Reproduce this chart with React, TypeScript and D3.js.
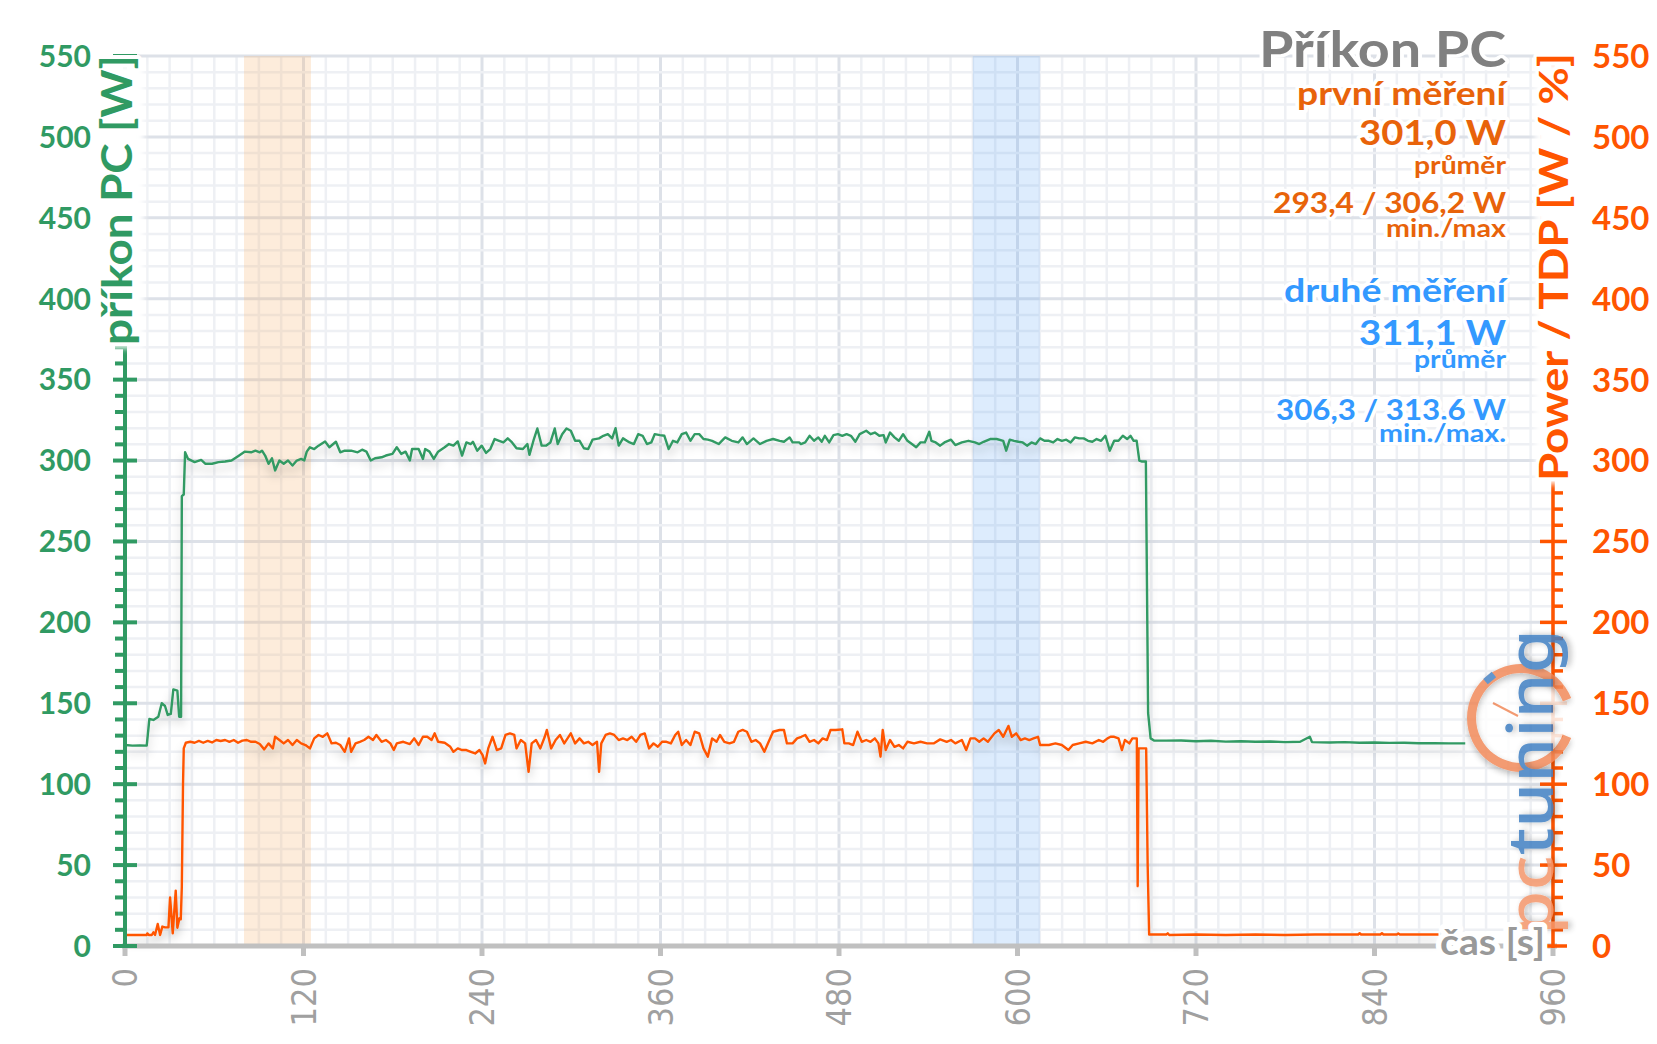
import React from 'react'
import * as d3 from 'd3'

const W = 1657
const H = 1044

// time axis [s] and power axis [W]
const xTicks = [0, 120, 240, 360, 480, 600, 720, 840, 960]
const yTicks = [0, 50, 100, 150, 200, 250, 300, 350, 400, 450, 500, 550]

// measurement windows [s]
const firstWindow = [80, 125]
const secondWindow = [570, 615]

// příkon PC [W] (left axis), [t, W]
const pcPower: [number, number][] = [
  [0, 124.2], [5, 123.8], [10, 124], [14.6, 123.8], [16.4, 140.3], [19.1, 139.7], [22.4, 141.7], [24.7, 150],
  [26.9, 148.3], [28.7, 142.8], [30.8, 143.4], [32.5, 158.6], [35.2, 157.8], [36.4, 141.7], [37.7, 141.7],
  [38.2, 278], [39.5, 279], [40.4, 305.1], [42.4, 301], [46.8, 299], [51.2, 300.4], [54.1, 298], [58.5, 298],
  [62.9, 299], [67.3, 299.4], [71.6, 300], [76, 302.7], [80.4, 305.5], [84.8, 305.1], [87.7, 306.1], [90.6, 305.1],
  [92.1, 306.1], [94.2, 303.1], [96.5, 298], [98.8, 301.4], [100.9, 293.9], [103.8, 300], [106.7, 298], [109.6, 300],
  [112.6, 296.9], [115.5, 300], [118.4, 301], [120.5, 300], [122.2, 305.5], [124.3, 308.2], [127.2, 307.1],
  [130.1, 309.2], [134.5, 311.8], [137.4, 308.2], [141.8, 311.6], [144.7, 305.1], [147.7, 306.1], [152, 306.1],
  [156.4, 305.1], [159.4, 306.7], [162.3, 305.5], [165.2, 300], [168.1, 301.4], [172.5, 302], [175.4, 303.1],
  [179.8, 304.1], [182.7, 308.2], [185.7, 304.1], [188.6, 305.5], [191.5, 300], [193, 307.1], [197.4, 307.1],
  [200.3, 301], [201.8, 307.1], [204.7, 305.5], [207.6, 301], [210.5, 305.5], [214.9, 308.2], [217.8, 310.2],
  [220.8, 309.2], [223.7, 311.8], [226.6, 303.1], [229.5, 311.2], [232.5, 310.2], [233.9, 311.6], [236.8, 306.1],
  [239.8, 309.2], [242.7, 304.7], [245.6, 307.1], [248.5, 313.3], [251.5, 312.2], [254.4, 311.2], [257.3, 313.7],
  [260.2, 311.2], [263.2, 307.6], [267.5, 307.1], [270.5, 310.2], [271.9, 303.5], [274.9, 313.3], [277.2, 319.8],
  [280.1, 309.2], [283, 309.2], [286, 311.2], [288.9, 319.8], [290.9, 310.2], [293.9, 316.3], [296.8, 319.8],
  [299.7, 318.4], [302.6, 312.2], [305.6, 312.2], [308.5, 307.6], [311.4, 307.1], [314.3, 312.9], [318.7, 313.7],
  [321.6, 315.3], [324.6, 316.3], [327.5, 313.7], [329.8, 320], [331.9, 309.2], [334.8, 313.7], [339.2, 311.2],
  [342.1, 310.2], [345, 316.3], [348, 315.3], [350.9, 310.2], [353.8, 311.2], [356.1, 316.3], [359.6, 315.7],
  [362.6, 315.3], [365.5, 307.1], [368.4, 312.2], [371.3, 311.2], [374.3, 316.3], [377.2, 317.3], [380.1, 312.2],
  [383, 316.3], [386, 316.3], [388.9, 313.3], [391.8, 312.9], [394.7, 312.2], [399.1, 310.2], [403.5, 314.3],
  [407.9, 312.2], [412.3, 311.2], [415.2, 314.3], [418.1, 310.2], [422.5, 313.7], [426.9, 310.2], [431.3, 312.2],
  [435.7, 313.3], [440.1, 312.2], [443, 311.6], [446.8, 314.3], [448.8, 311.2], [453.2, 311.2], [454.4, 310.2],
  [457.3, 311.2], [460.2, 315.3], [463.2, 312.2], [466.1, 314.3], [468.4, 311.6], [470.5, 315.3], [473.4, 311.2],
  [476.3, 315.7], [479.3, 316.3], [482.2, 315.3], [485.1, 316.3], [488, 315.3], [491, 311.6], [493.9, 316.3],
  [498.3, 318.4], [501.2, 316.3], [504.1, 317.3], [507.1, 315.3], [510, 315.7], [511.4, 311.2], [514.3, 317.3],
  [517.3, 314.3], [520.2, 312.2], [523.1, 316.3], [526, 312.2], [529, 310.2], [531.9, 308.2], [534.8, 311.2],
  [537.7, 311.2], [540.7, 317.8], [542.1, 312.2], [545, 311.2], [548, 309.2], [550.9, 311.2], [555.3, 312.9],
  [558.2, 309.6], [562.6, 311.2], [567, 312.2], [571.4, 311.2], [574.3, 310.2], [577.2, 311.6], [581.6, 313.3],
  [586, 313.3], [590.4, 312.2], [592.4, 306.1], [594.8, 312.9], [597.7, 312.2], [600.6, 311.6], [603.5, 311.2],
  [606.4, 309.2], [609.4, 311.2], [612.3, 310.2], [615.2, 313.7], [618.1, 312.2], [621.1, 312.2], [624, 311.2],
  [626.9, 313.3], [629.8, 312.2], [632.8, 312.9], [635.7, 311.2], [638.6, 314.3], [641.5, 313.7], [644.5, 313.7],
  [647.4, 312.2], [650.3, 311.6], [653.2, 313.3], [656.2, 312.2], [659.1, 315.3], [662, 306.1], [665, 312.2],
  [667.9, 312.2], [670.8, 315.3], [673.7, 313.3], [676, 315.3], [678.1, 312.2], [680.1, 312.2], [681.9, 300],
  [683.4, 299.4], [686.3, 299.4], [687.8, 144], [689.5, 128.3], [692, 126.9], [700, 126.9], [710, 127],
  [720, 126.5], [730, 126.8], [740, 126.3], [750, 126.5], [760, 126.2], [770, 126.4], [780, 126], [790, 126.2],
  [796.5, 129.3], [798, 126], [810, 125.8], [820, 126], [830, 125.6], [840, 125.8], [850, 125.5], [860, 125.6],
  [870, 125.3], [880, 125.4], [890, 125.2], [901, 125.2],
]

// Power / TDP [W] (right axis), [t, W]
const powerTdp: [number, number][] = [
  [0, 6.8], [14.6, 6.8], [15, 7.8], [16, 6.8], [18, 6.8], [19.1, 8.5], [20.2, 6.8], [22, 13.6], [23.6, 6.8],
  [25.1, 12], [26.9, 11.5], [29.2, 11.5], [30.3, 30], [32.1, 7.8], [34.1, 34.2], [35.2, 11.3], [36.6, 17.1],
  [37.5, 16.5], [38.2, 36.7], [39, 100], [39.5, 122.1], [40.9, 125.6], [43.9, 126.2], [46.8, 125.6], [49.7, 126.7],
  [52.6, 125.6], [55.6, 126.7], [58.5, 125.8], [61.4, 127.3], [64.3, 126.7], [67.3, 127.3], [70.2, 126.2],
  [73.1, 127.3], [76, 125.6], [78.9, 126.9], [81.9, 127.3], [84.8, 126.2], [87.7, 126.2], [90.6, 124.8],
  [93.6, 121.5], [96.5, 125.2], [99.4, 122.1], [100.9, 129.3], [103.8, 127.3], [106.7, 125.2], [109.6, 127.3],
  [112.6, 124.2], [115.5, 127.3], [118.4, 125.2], [121.3, 124.2], [124.3, 122.1], [127.2, 128.3], [130.1, 130.4],
  [133, 129.3], [136, 131.4], [138.9, 125.2], [141.8, 125.6], [144.7, 124.2], [147.7, 120], [150.6, 128.3],
  [152, 120], [155, 125.2], [157.9, 126.2], [160.8, 127.3], [163.7, 129.3], [166.7, 127.3], [169, 130.4],
  [172.5, 126.2], [175.4, 127.3], [178.4, 125.2], [180.7, 121.1], [182.7, 125.2], [187.1, 126.2], [191.5, 124.8],
  [194.4, 128.3], [197.4, 124.2], [200.3, 129.3], [203.2, 129.3], [206.1, 127.3], [208.2, 131.4], [210.5, 126.2],
  [214.9, 125.6], [218.7, 123.1], [220.8, 120], [223.7, 122.1], [226.6, 121.1], [229.5, 121.1], [232.5, 120],
  [235.4, 119], [238.3, 121.1], [240.4, 118], [242.1, 112.8], [244.2, 122.1], [247.1, 129.3], [250, 121.1],
  [252.9, 122.1], [255.8, 130.4], [258.8, 131.4], [261.7, 130.4], [263.2, 122.1], [266.1, 127.3], [269, 125.2],
  [271.3, 107.6], [273.4, 125.2], [276.3, 127.3], [279.2, 122.1], [282.2, 129.3], [283.6, 133.5], [286.5, 122.1],
  [289.5, 127.3], [292.4, 130.4], [295.3, 125.2], [299.7, 131.4], [302.6, 125.2], [305.6, 128.3], [308.5, 125.2],
  [311.4, 126.2], [314.3, 124.2], [317.3, 126.2], [318.7, 107.6], [320.2, 125.2], [323.1, 130.4], [326, 131.4],
  [328.9, 130.4], [331.9, 127.3], [334.8, 128.3], [337.7, 127.3], [340.6, 129.3], [343.6, 126.2], [346.5, 130.4],
  [349.4, 131.4], [352.3, 122.1], [355.3, 125.2], [358.2, 123.1], [361.1, 126.2], [364, 126.2], [367, 125.2],
  [369.9, 130.4], [371.9, 132.4], [374.3, 124.2], [377.2, 127.3], [380.1, 124.2], [383, 132.4], [386, 131.4],
  [388.9, 122.1], [391.8, 117], [394.7, 128.3], [397.7, 126.2], [400, 130.4], [402.9, 126.2], [406.4, 125.2],
  [409.4, 126.2], [412.3, 132.4], [415.2, 133.5], [418.1, 132.4], [421.1, 126.2], [424, 127.3], [426.9, 125.2],
  [429.8, 120], [432.7, 126.2], [435.7, 132.4], [440.1, 133.5], [443, 133.5], [445, 125.2], [448.8, 125.2],
  [451.8, 128.3], [454.7, 129.3], [457.3, 130.4], [460.2, 126.2], [463.2, 127.3], [466.1, 125.2], [469, 128.3],
  [471.9, 127.3], [474.3, 133.5], [477.8, 133.5], [482.2, 133.9], [483.6, 125.2], [486.6, 125.2], [489.5, 124.2],
  [492.4, 132.4], [495.3, 126.2], [498.3, 127.3], [501.2, 126.2], [504.1, 128.3], [506.5, 125.2], [507.9, 117],
  [509.4, 133.5], [511.4, 121.1], [514.3, 127.3], [517.3, 123.1], [520.2, 124.2], [523.1, 122.1], [526, 126.2],
  [530.4, 125.2], [534.8, 126.2], [539.2, 125.2], [543.6, 125.2], [548, 127.7], [552.4, 126.2], [555.3, 127.3],
  [558.2, 125.2], [562.6, 127.3], [565.5, 121.1], [568.4, 128.3], [571.4, 128.3], [574.3, 126.2], [577.2, 128.3],
  [580.1, 126.2], [584.5, 131.4], [587.4, 133.5], [590.4, 129.3], [593.9, 136], [596.2, 129.3], [599.1, 131.4],
  [602.1, 127.3], [605, 128.3], [607.9, 127.3], [610.8, 128.3], [613.8, 129.3], [615.2, 124.2], [618.1, 124.2],
  [621.1, 124.2], [625.5, 125.2], [629.8, 124.2], [634.2, 121.1], [637.1, 124.2], [641.5, 125.2], [645.9, 126.2],
  [650.3, 125.2], [654.7, 127.3], [657.6, 126.2], [660.5, 128.3], [662.6, 129.3], [665, 129.3], [667.9, 128.3],
  [670.2, 121.1], [672.2, 127.3], [675.2, 125.2], [677.2, 128.3], [680.2, 128.3], [680.8, 37], [681.4, 122.1],
  [684, 122.1], [686.5, 122.1], [687.5, 50], [688.5, 7.1], [700, 7.1], [701, 7.8], [702, 6.8], [720, 7.1],
  [740, 6.8], [760, 7.1], [780, 6.8], [800, 7.1], [829, 7.1], [830, 7.9], [831, 7.1], [844, 7.1], [845, 7.9],
  [846, 7.1], [855, 7.1], [856, 7.7], [857, 7.1], [883, 7.1],
]

const GREEN = '#309a63'
const ORANGE = '#ff5500'
const TXT_ORANGE = '#e8630a'
const BLUE = '#3399ff'
const GREY = '#808080'

const x = d3.scaleLinear().domain([0, 960]).range([125, 1553])
const y = d3.scaleLinear().domain([0, 550]).range([946, 56])

const line = d3.line<[number, number]>().x(d => x(d[0])).y(d => y(d[1]))

const halo = { paintOrder: 'stroke', stroke: '#fff', strokeWidth: 7, strokeLinejoin: 'round' } as React.CSSProperties
const FONT = 'Lato, "Open Sans", sans-serif'

export default function App() {
  const minorX = d3.range(0, 961, 15)
  const minorY = d3.range(0, 551, 10)
  const ringArc = d3.arc()({ innerRadius: 45, outerRadius: 54, startAngle: Math.PI * 0.62, endAngle: Math.PI * 2.38 } as any)

  const stat = (txt: string, base: number, size: number, len: number, color: string) => (
    <text x={1506} y={base} textAnchor="end" fontSize={size} fontWeight={700} fill={color}
      textLength={len} lengthAdjust="spacingAndGlyphs" style={halo}>{txt}</text>
  )

  return (
    <svg width={W} height={H} style={{ position: 'absolute', left: 0, top: 0, background: '#fff' }} fontFamily={FONT}>
      <defs>
        <filter id="shadow" x="-5%" y="-20%" width="110%" height="140%">
          <feDropShadow dx="0" dy="6" stdDeviation="5" floodColor="#000" floodOpacity="0.22" />
        </filter>
        <filter id="logoShadow" x="-30%" y="-30%" width="160%" height="160%">
          <feDropShadow dx="0" dy="3" stdDeviation="3" floodColor="#000" floodOpacity="0.3" />
        </filter>
        <filter id="soft" x="-30%" y="-10%" width="160%" height="120%">
          <feGaussianBlur stdDeviation="3" />
        </filter>
      </defs>

      {/* grid */}
      <g>
        {minorX.map(t => (
          <line key={'vx' + t} x1={x(t)} x2={x(t)} y1={y(550)} y2={y(0)}
            stroke={t % 120 === 0 ? '#dde1e8' : '#eef0f4'} strokeWidth={t % 120 === 0 ? 3 : 2.5} />
        ))}
        {minorY.map(v => (
          <line key={'hy' + v} x1={x(0)} x2={x(960)} y1={y(v)} y2={y(v)}
            stroke={v % 50 === 0 ? '#dde1e8' : '#eef0f4'} strokeWidth={v % 50 === 0 ? 3 : 2.5} />
        ))}
      </g>

      {/* measurement windows */}
      <rect x={x(firstWindow[0])} y={y(550)} width={x(firstWindow[1]) - x(firstWindow[0])} height={y(0) - y(550) + 2}
        fill="rgba(247,180,110,0.25)" />
      <rect x={x(secondWindow[0])} y={y(550)} width={x(secondWindow[1]) - x(secondWindow[0])} height={y(0) - y(550) + 2}
        fill="rgba(100,170,245,0.22)" />

      {/* series */}
      <g filter="url(#shadow)" fill="none" strokeLinejoin="round">
        <path d={line(powerTdp) || ''} stroke={ORANGE} strokeWidth={2.4} />
        <path d={line(pcPower) || ''} stroke={GREEN} strokeWidth={2.4} />
      </g>

      {/* x axis */}
      <line x1={122} x2={1557} y1={y(0)} y2={y(0)} stroke="#c0c0c0" strokeWidth={5} />
      {xTicks.map(t => (
        <g key={'xt' + t}>
          <line x1={x(t)} x2={x(t)} y1={y(0)} y2={y(0) + 10} stroke="#c0c0c0" strokeWidth={5} />
          <text transform={`translate(${x(t)},968) rotate(-90)`} dy="0.36em" textAnchor="end" fontSize={34}
            fontFamily='"Liberation Sans Narrow", "DejaVu Sans Condensed", sans-serif' fill="#a0a0a0">{t}</text>
        </g>
      ))}

      {/* left axis */}
      <line x1={125} x2={125} y1={y(550) - 2} y2={y(0) + 2} stroke={GREEN} strokeWidth={4} />
      {minorY.map(v => (
        <line key={'lt' + v} x1={v % 50 === 0 ? 113 : 115} x2={v % 50 === 0 ? 137 : 125} y1={y(v)} y2={y(v)}
          stroke={GREEN} strokeWidth={4} />
      ))}
      {yTicks.map(v => (
        <text key={'ly' + v} x={91} y={y(v)} dy="0.36em" textAnchor="end" fontSize={30} fontWeight={700} fill={GREEN}>{v}</text>
      ))}
      <rect x={98} y={63} width={46} height={285} fill="#fff" filter="url(#soft)" />
      <text transform="translate(132,55) rotate(-90)" textAnchor="end" fontSize={42} fontWeight={700} fill={GREEN}
        textLength={290} lengthAdjust="spacingAndGlyphs" style={halo}>příkon PC [W]</text>

      {/* right axis */}
      <line x1={1553} x2={1553} y1={y(550) - 2} y2={y(0) + 2} stroke={ORANGE} strokeWidth={3.5} />
      {minorY.map(v => (
        <line key={'rt' + v} x1={v % 50 === 0 ? 1540 : 1553} x2={v % 50 === 0 ? 1567 : 1563} y1={y(v)} y2={y(v)}
          stroke={ORANGE} strokeWidth={3.5} />
      ))}
      {yTicks.map(v => (
        <text key={'ry' + v} x={1592} y={y(v)} dy="0.36em" textAnchor="start" fontSize={33} fontWeight={700} fill={ORANGE}>{v}</text>
      ))}
      <rect x={1535} y={62} width={46} height={422} fill="#fff" filter="url(#soft)" />
      <text transform="translate(1568,53) rotate(-90)" textAnchor="end" fontSize={40} fontWeight={700} fill={ORANGE}
        textLength={428} lengthAdjust="spacingAndGlyphs" style={halo}>Power / TDP [W / %]</text>

      {/* logo */}
      <g opacity={0.85}>
        <circle cx={1521} cy={718} r={49} fill="#fff" />
        <path d={ringArc || ''} transform="translate(1521,718)" fill="#f28a5a" filter="url(#logoShadow)" />
        <rect x={1484} y={675} width={11} height={7} fill="#4a86c6" transform="rotate(-40,1489,678)" />
        <line x1={1493} y1={703} x2={1518} y2={716} stroke="#f28a5a" strokeWidth={2} />
        <text transform="translate(1553,935) rotate(-90)" fontSize={64} fontWeight={500} fontFamily='"Noto Sans", sans-serif'
          textLength={306} lengthAdjust="spacingAndGlyphs" filter="url(#logoShadow)">
          <tspan fill="#f4966a">pc</tspan><tspan fill="#3f7fc2">tuning</tspan>
        </text>
      </g>

      {/* x axis title */}
      <text x={1440} y={955} fontSize={36} fontWeight={700} fill="#999" textLength={105} lengthAdjust="spacingAndGlyphs"
        style={{ ...halo, strokeWidth: 10 }}>čas [s]</text>

      {/* title and stats */}
      {stat('Příkon PC', 67, 50, 247, GREY)}
      {stat('první měření', 105, 33, 209, TXT_ORANGE)}
      {stat('301,0 W', 145, 35, 147, TXT_ORANGE)}
      {stat('průměr', 174, 24, 92, TXT_ORANGE)}
      {stat('293,4 / 306,2 W', 213, 29, 233, TXT_ORANGE)}
      {stat('min./max', 237, 24, 120, TXT_ORANGE)}
      {stat('druhé měření', 302, 33, 222, BLUE)}
      {stat('311,1 W', 345, 35, 147, BLUE)}
      {stat('průměr', 368, 24, 92, BLUE)}
      {stat('306,3 / 313,6 W', 420, 29, 230, BLUE)}
      {stat('min./max.', 442, 24, 127, BLUE)}
    </svg>
  )
}
